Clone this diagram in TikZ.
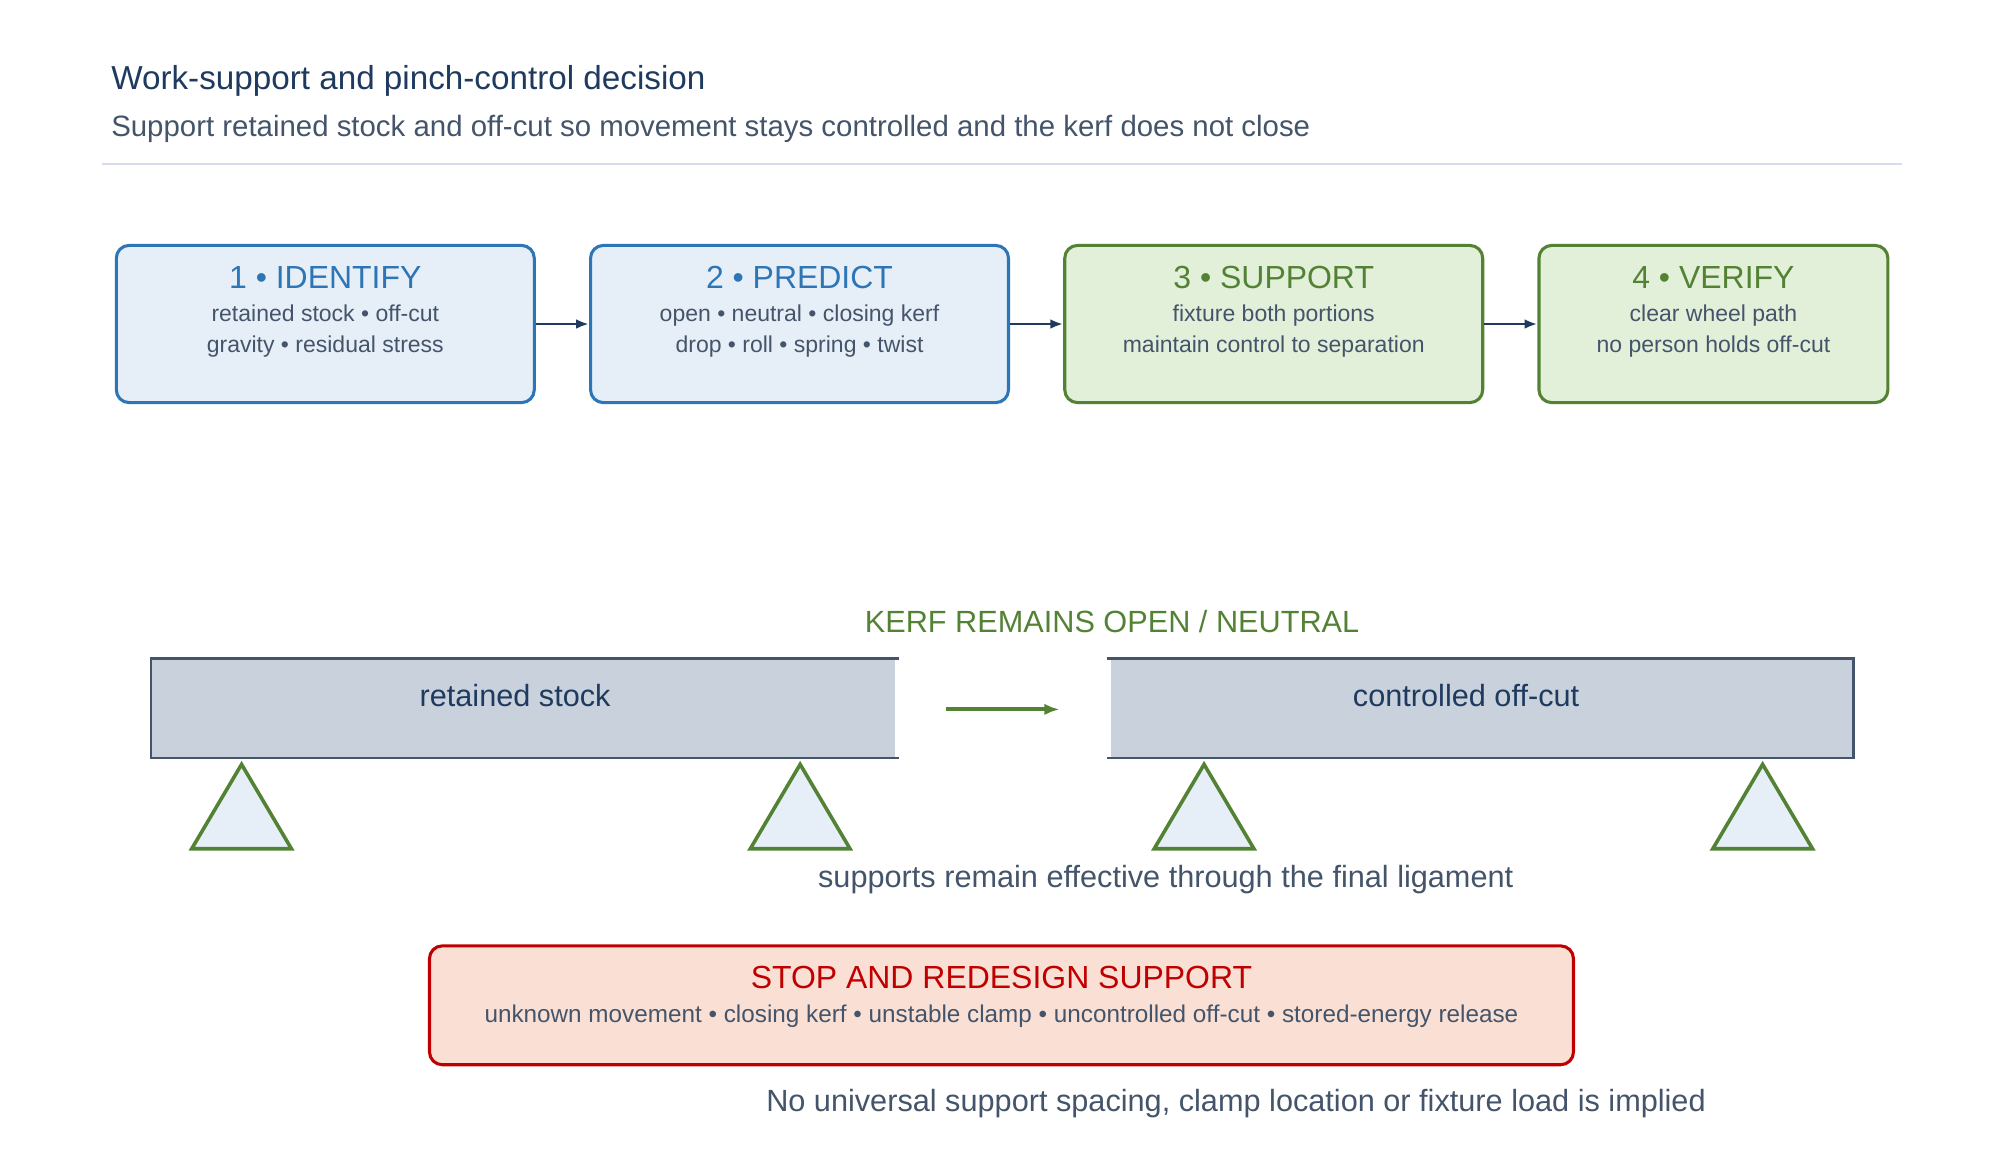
\documentclass[tikz,border=0pt]{standalone}
\usepackage{fontspec}
\setmainfont{Liberation Sans}
\usetikzlibrary{positioning,calc,arrows.meta}
\definecolor{ink}{HTML}{1F3A5F}
\definecolor{slate}{HTML}{44546A}
\definecolor{bluefill}{HTML}{E6EFF7}
\definecolor{blueline}{HTML}{2E75B6}
\definecolor{greenfill}{HTML}{E2F0D9}
\definecolor{greenline}{HTML}{548235}
\definecolor{redfill}{HTML}{FAE0D4}
\definecolor{redline}{HTML}{C00000}
\definecolor{barfill}{HTML}{C9D2DC}
\definecolor{rule}{HTML}{D6DCF0}

\begin{document}
\begin{tikzpicture}[
  x=0.5pt, y=-0.5pt,
  stage/.style={draw, line width=1.2pt, rounded corners=5pt, minimum height=61.5pt},
  bluestage/.style={stage, fill=bluefill, draw=blueline},
  greenstage/.style={stage, fill=greenfill, draw=greenline},
  flow/.style={-{Latex[length=5pt]}, line width=1.1pt, draw=ink},
  support/.style={draw=greenline, fill=bluefill, line width=1.4pt, line join=miter},
  ]
  \useasboundingbox (0,0) rectangle (1560,908);
  % heading
  \node [anchor=west, text=ink, font=\fontsize{13}{15}\selectfont] (title) at (80,63) {Work-support and pinch-control decision};
  \node [anchor=west, text=slate, font=\fontsize{11.5}{14}\selectfont] (subtitle) at (80,101) {Support retained stock and off-cut so movement stays controlled and the kerf does not close};
  \draw [rule, line width=0.8pt] (80,128) -- (1488,128);

  % decision stages
  \foreach \n/\x/\w/\s/\c/\t/\a/\b in {
    1/254.5/327/bluestage/blueline/{1 • IDENTIFY}/{retained stock • off-cut}/{gravity • residual stress},
    2/625.5/327/bluestage/blueline/{2 • PREDICT}/{open • neutral • closing kerf}/{drop • roll • spring • twist},
    3/996.5/327/greenstage/greenline/{3 • SUPPORT}/{fixture both portions}/{maintain control to separation},
    4/1340.5/273/greenstage/greenline/{4 • VERIFY}/{clear wheel path}/{no person holds off-cut}}
  {
    \node [\s, minimum width=\w*0.5pt] (S\n) at (\x,253.5) {};
    \node [text=\c, font=\fontsize{12.5}{15}\selectfont] at (\x,217) {\t};
    \node [text=slate, font=\fontsize{9}{11}\selectfont, align=center] at (\x,259) {\a\\[1pt]\b};
  }
  \draw [flow] (S1) -- (S2);
  \draw [flow] (S2) -- (S3);
  \draw [flow] (S3) -- (S4);

  % work piece
  \node [text=greenline, font=\fontsize{12}{14}\selectfont] (kerf) at (870,486) {KERF REMAINS OPEN / NEUTRAL};
  \fill [barfill] (118,515) rectangle (700,593);
  \draw [slate, line width=1pt] (703,515) -- (118,515) -- (118,593) -- (703,593);
  \fill [barfill] (869,515) rectangle (1450,593);
  \draw [slate, line width=1pt] (866,515) -- (1450,515) -- (1450,593) -- (866,593);
  \node [text=ink, font=\fontsize{12}{14}\selectfont] (retained) at (403,544) {retained stock};
  \node [text=ink, font=\fontsize{12}{14}\selectfont] (offcut) at (1147,544) {controlled off-cut};
  \coordinate (gapL) at (740,555);
  \coordinate (gapR) at (829,555);
  \draw [-{Latex[length=6pt]}, line width=1.6pt, greenline] (gapL) -- (gapR);
  \foreach \x in {189,626,942,1379}
    \draw [support] (\x,598) -- (\x+39,664) -- (\x-39,664) -- cycle;
  \node [text=slate, font=\fontsize{12}{14}\selectfont] (note) at (912,688) {supports remain effective through the final ligament};

  % stop condition
  \node [draw=redline, fill=redfill, line width=1.2pt, rounded corners=5pt,
    minimum width=447.5pt, minimum height=46.5pt] (stop) at (783.5,786.5) {};
  \node [text=redline, font=\fontsize{12.5}{15}\selectfont] at (783.5,765) {STOP AND REDESIGN SUPPORT};
  \node [text=slate, font=\fontsize{9.5}{11}\selectfont] at (783.5,795) {unknown movement • closing kerf • unstable clamp • uncontrolled off-cut • stored-energy release};
  \node [text=slate, font=\fontsize{12}{14}\selectfont] (footer) at (967,863) {No universal support spacing, clamp location or fixture load is implied};
\end{tikzpicture}
\end{document}
